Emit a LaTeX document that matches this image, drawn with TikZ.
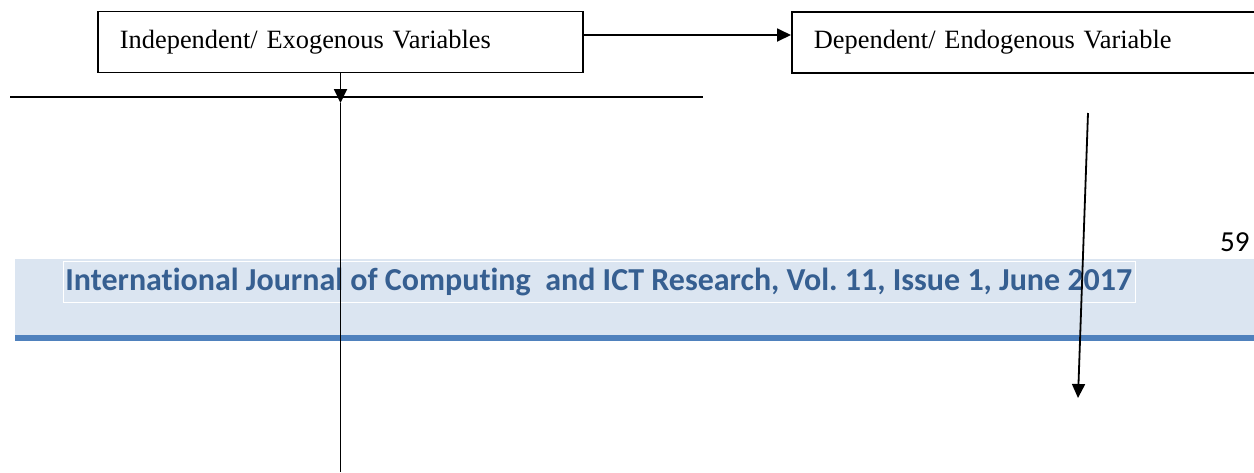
\documentclass[tikz,border=0pt]{standalone}
\usepackage{fontspec}
\setmainfont{Liberation Serif}
\newfontfamily\hdrfont[Ligatures=NoCommon]{Carlito}
\usetikzlibrary{arrows.meta}
\definecolor{bandblue}{HTML}{DBE5F1}
\definecolor{barblue}{HTML}{4F81BD}
\definecolor{hdrtext}{HTML}{365F91}
\tikzset{
  varbox/.style={draw=black, line width=0.9pt, fill=white, minimum height=30.5pt, inner xsep=11pt, anchor=west, align=left, font=\fontsize{13.2}{15}\selectfont},
  conn/.style={line width=0.9pt, -{Triangle[length=7pt,width=6.5pt]}},
  plain/.style={line width=0.9pt}
}
\begin{document}
\begin{tikzpicture}[x=0.5pt,y=-0.5pt]
\useasboundingbox (0,0) rectangle (1254,472);
\clip (0,0) rectangle (1254,472);
% header band
\fill[bandblue] (15,259) rectangle (1254,335);
\fill[barblue] (15,335) rectangle (1254,341);
\node[draw=white, line width=0.6pt, fill=bandblue, minimum width=536pt, minimum height=20.5pt, anchor=north west, inner sep=0pt] (hdrbox) at (63,261) {};
\node[anchor=west, inner sep=0pt, text=hdrtext, font=\hdrfont\bfseries\fontsize{16}{18}\selectfont] (hdr) at (65,281.5) {International Journal of Computing\ \ and ICT Research, Vol.~11, Issue 1, June 2017};
\node[anchor=north east, inner sep=0pt, font=\hdrfont\fontsize{14.5}{16}\selectfont] (pg) at (1250,232) {59};
% boxes
\node[varbox, text width=220.5pt] (indep) at (97,42) {Independent/ Exogenous Variables};
\node[varbox, text width=218pt] (dep) at (791,42.5) {Dependent/ Endogenous Variable};
% connectors
\draw[conn] (indep.east |- 0,35) -- (dep.west |- 0,35);
\coordinate (tip) at (340.5,103);
\coordinate (vbot) at (340.5,472);
\coordinate (hl) at (10,97);
\coordinate (hr) at (703,97);
\draw[plain] (hl) -- (hr);
\draw[conn] (indep.south -| tip) -- (tip);
\draw[plain] (tip) -- (vbot);
\coordinate (sa) at (1088,113);
\coordinate (sb) at (1078,398);
\draw[conn] (sa) -- (sb);
\end{tikzpicture}
\end{document}
